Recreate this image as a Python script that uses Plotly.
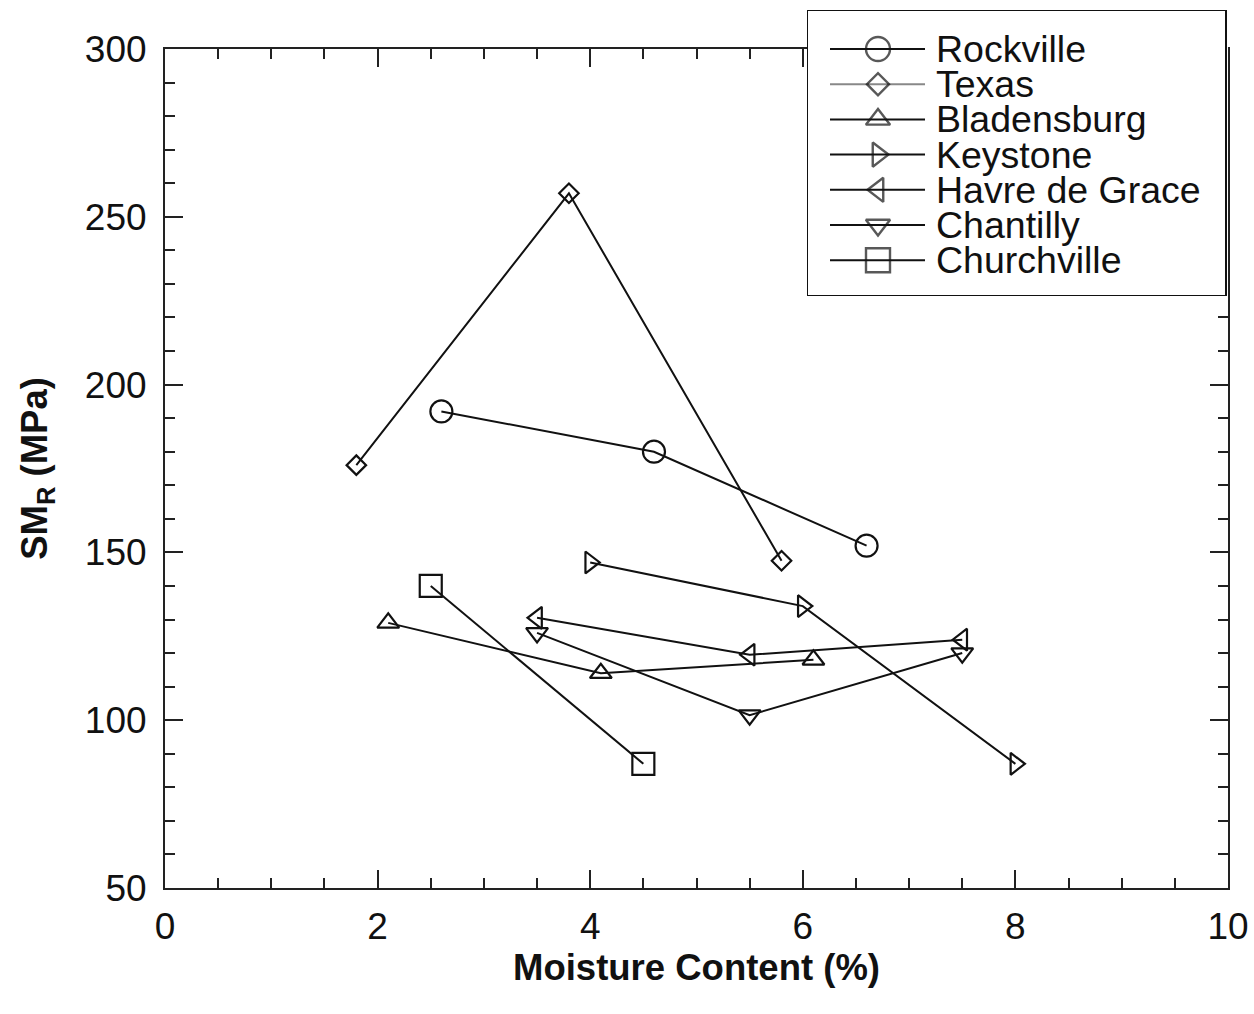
import plotly.graph_objects as go

# ---- data ----
series_names = ["Rockville", "Texas", "Bladensburg", "Keystone",
                "Havre de Grace", "Chantilly", "Churchville"]
rockville_x = [2.6, 4.6, 6.6]
rockville_y = [192, 180, 152]
texas_x = [1.8, 3.8, 5.8]
texas_y = [176, 257, 147.5]
bladensburg_x = [2.1, 4.1, 6.1]
bladensburg_y = [129, 114, 118]
keystone_x = [4.0, 6.0, 8.0]
keystone_y = [147, 134, 87]
havre_x = [3.5, 5.5, 7.5]
havre_y = [130.5, 119.5, 124]
chantilly_x = [3.5, 5.5, 7.5]
chantilly_y = [126, 101.5, 120]
churchville_x = [2.5, 4.5]
churchville_y = [140, 87]
x_ticks = [0, 2, 4, 6, 8, 10]
y_ticks = [50, 100, 150, 200, 250, 300]

xs = [rockville_x, texas_x, bladensburg_x, keystone_x, havre_x, chantilly_x, churchville_x]
ys = [rockville_y, texas_y, bladensburg_y, keystone_y, havre_y, chantilly_y, churchville_y]
symbols = ["circle-open", "diamond-open", "triangle-up-open", "triangle-right-open",
           "triangle-left-open", "triangle-down-open", "square-open"]
sizes = [22, 15, 19, 19, 19, 19, 22]
legend_line_colors = ["#111", "#888", "#111", "#111", "#111", "#111", "#111"]

FONT = "Liberation Sans, Arial, Helvetica, sans-serif"
INK = "#111"

fig = go.Figure()

for name, x, y, sym, sz in zip(series_names, xs, ys, symbols, sizes):
    fig.add_trace(go.Scatter(
        x=x, y=y, mode="lines+markers", name=name, showlegend=False,
        line=dict(color=INK, width=2),
        marker=dict(symbol=sym, size=sz, color=INK, line=dict(width=2.2, color=INK)),
        xaxis="x", yaxis="y", cliponaxis=False,
    ))

# ---- custom legend drawn in its own small axes ----
row_top = 39
row_h = 35.2
for i, (name, sym, sz, lc) in enumerate(zip(series_names, symbols, sizes, legend_line_colors)):
    ry = row_top + i * row_h
    fig.add_trace(go.Scatter(
        x=[23, 71, 118], y=[ry, ry, ry], mode="lines+markers", showlegend=False,
        line=dict(color=lc, width=2),
        marker=dict(symbol=sym, size=[0, sz + 2, 0], color=INK,
                    line=dict(width=2.4, color=INK)),
        xaxis="x2", yaxis="y2", hoverinfo="skip",
    ))
    fig.add_annotation(x=127, y=ry, xref="x2", yref="y2", text=name, showarrow=False,
                       xanchor="left", yanchor="middle",
                       font=dict(family=FONT, size=37.5, color=INK))

fig.add_shape(type="rect", xref="x2", yref="y2", x0=0, x1=419, y0=0, y1=286,
              fillcolor="white", line=dict(color=INK, width=2), layer="below")

H = 1014 - 10 - 126
fig.update_layout(
    width=1254, height=1014, autosize=False,
    margin=dict(l=165, r=26, t=10, b=126, pad=0),
    paper_bgcolor="white", plot_bgcolor="white",
    font=dict(family=FONT, color=INK),
    xaxis=dict(
        domain=[0, 1], range=[0, 10], tickvals=x_ticks, ticks="inside", ticklen=18,
        tickwidth=2, tickcolor="#222", showline=True, linewidth=2, linecolor="#222",
        mirror="ticks", showgrid=False, zeroline=False, automargin=False,
        tickfont=dict(size=37, family=FONT, color=INK), ticklabelstandoff=5,
        minor=dict(dtick=0.5, ticks="inside", ticklen=10, tickwidth=2, tickcolor="#222",
                   showgrid=False),
        title=dict(text="<b>Moisture Content (%)</b>", font=dict(size=36.5, family=FONT),
                   standoff=8),
        anchor="y",
    ),
    yaxis=dict(
        domain=[0, (888 - 49) / H], range=[50, 300], tickvals=y_ticks, ticks="inside",
        ticklen=18, tickwidth=2, tickcolor="#222", showline=True, linewidth=2,
        linecolor="#222", mirror="ticks", showgrid=False, zeroline=False,
        automargin=False,
        tickfont=dict(size=37, family=FONT, color=INK), ticklabelstandoff=9,
        minor=dict(dtick=10, ticks="inside", ticklen=10, tickwidth=2, tickcolor="#222",
                   showgrid=False),
        title=dict(text="<b>SM<sub>R</sub> (MPa)</b>", font=dict(size=36.5, family=FONT),
                   standoff=26),
        anchor="x",
    ),
    xaxis2=dict(domain=[(807 - 165) / 1063, 1.0], range=[0, 421], visible=False,
                fixedrange=True, anchor="y2"),
    yaxis2=dict(domain=[(888 - 296) / H, 1.0], range=[286, 0], visible=False,
                fixedrange=True, anchor="x2"),
)

fig.write_html("out.html")
